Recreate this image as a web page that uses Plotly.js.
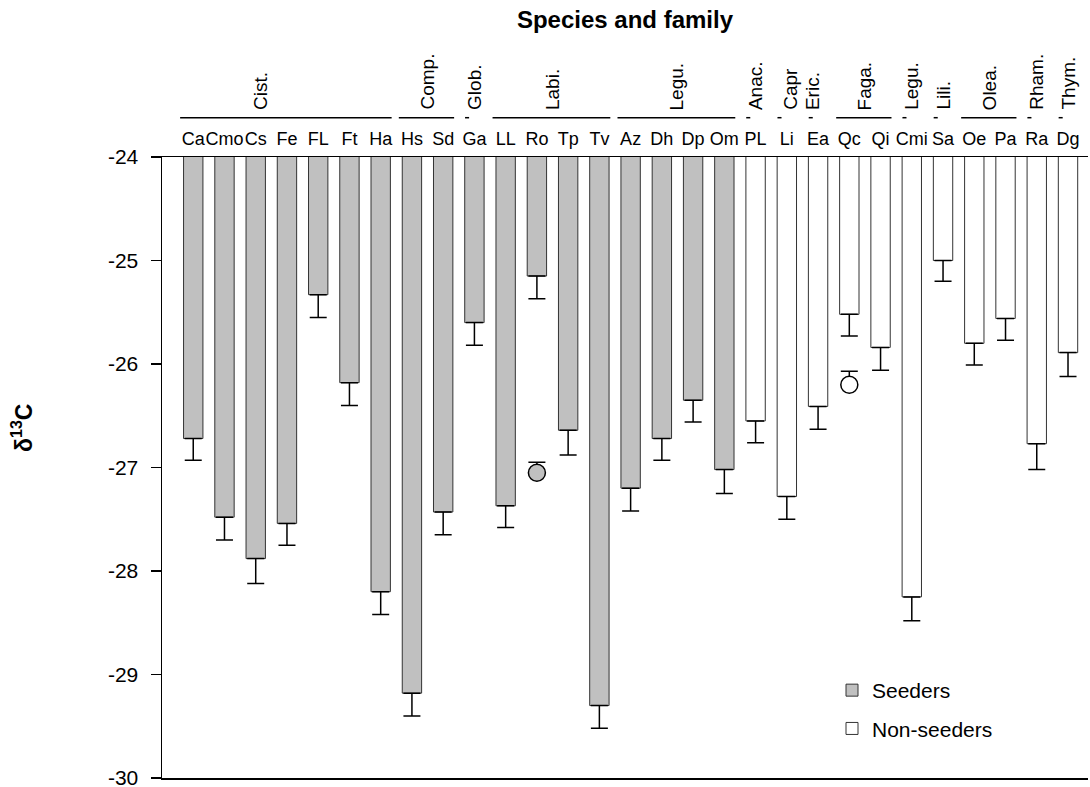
<!DOCTYPE html>
<html>
<head>
<meta charset="utf-8">
<script src="https://cdn.plot.ly/plotly-3.0.1.min.js"></script>
<style>html,body{margin:0;padding:0;background:#fff;}#chart{width:1090px;height:787px;}</style>
</head>
<body>
<div id="chart"></div>
<script>
// ---- data ----
const categories = ['Ca','Cmo','Cs','Fe','FL','Ft','Ha','Hs','Sd','Ga','LL','Ro','Tp','Tv','Az','Dh','Dp','Om',
                    'PL','Li','Ea','Qc','Qi','Cmi','Sa','Oe','Pa','Ra','Dg'];
const seederSpecies = ['Ca','Cmo','Cs','Fe','FL','Ft','Ha','Hs','Sd','Ga','LL','Ro','Tp','Tv','Az','Dh','Dp','Om'];
const seederValues  = [-26.72,-27.48,-27.88,-27.54,-25.33,-26.18,-28.20,-29.18,-27.43,-25.60,-27.37,-25.15,-26.64,-29.30,-27.20,-26.72,-26.35,-27.02];
const seederErrors  = [0.21,0.22,0.24,0.21,0.22,0.22,0.22,0.22,0.22,0.22,0.21,0.22,0.24,0.22,0.22,0.21,0.21,0.23];
const nonSeederSpecies = ['PL','Li','Ea','Qc','Qi','Cmi','Sa','Oe','Pa','Ra','Dg'];
const nonSeederValues  = [-26.55,-27.28,-26.41,-25.52,-25.84,-28.25,-25.00,-25.80,-25.56,-26.77,-25.89];
const nonSeederErrors  = [0.21,0.22,0.22,0.21,0.22,0.23,0.20,0.21,0.21,0.25,0.23];
const extraSpecies = ['Ro','Qc'];
const extraValues  = [-27.05,-26.20];
const extraErrors  = [0.10,0.13];
const familyNames = ['Cist.','Comp.','Glob.','Labi.','Legu.','Anac.','Capr','Eric.','Faga.','Legu.','Lili.','Olea.','Rham.','Thym.'];
const familyFirst = ['Ca','Hs','Ga','LL','Az','PL','Li','Ea','Qc','Cmi','Sa','Oe','Ra','Dg'];
const familyLast  = ['Ha','Sd','Ga','Tv','Om','PL','Li','Ea','Qi','Cmi','Sa','Pa','Ra','Dg'];
const yTicks = [-24,-25,-26,-27,-28,-29,-30];

// ---- style ----
const FONT = 'Liberation Sans, Arial, Helvetica, sans-serif';
const famTextShift = {'Cist.': -26, 'Capr': 4, 'Eric.': -5};
const gray = '#c0c0c0';

const barCommon = {
  type: 'bar', width: 0.62,
  hoverinfo: 'x+y'
};
const traces = [
  Object.assign({}, barCommon, {
    name: 'Seeders', x: seederSpecies, y: seederValues, legendgroup: 'a',
    marker: {color: gray, line: {color: '#333', width: 1}},
    error_y: {type: 'data', symmetric: false, array: seederValues.map(() => 0), arrayminus: seederErrors,
              color: '#000', thickness: 1.5, width: 8.5}
  }),
  Object.assign({}, barCommon, {
    name: 'Non-seeders', x: nonSeederSpecies, y: nonSeederValues, legendgroup: 'b',
    marker: {color: '#fff', line: {color: '#333', width: 1}},
    error_y: {type: 'data', symmetric: false, array: nonSeederValues.map(() => 0), arrayminus: nonSeederErrors,
              color: '#000', thickness: 1.5, width: 8.5}
  }),
  {
    type: 'scatter', mode: 'markers', x: extraSpecies, y: extraValues, showlegend: false,
    marker: {size: 17, color: [gray, '#fff'], line: {color: '#000', width: 1.5}},
    error_y: {type: 'data', symmetric: false, array: extraErrors, arrayminus: extraValues.map(() => 0),
              color: '#000', thickness: 1.5, width: 8.5}
  }
];

const idx = c => categories.indexOf(c);
const shapes = [];
const annotations = [];
const lineY = (778 - 117.7) / 621;
const textY = (778 - 112) / 621;
familyNames.forEach((name, i) => {
  const a = idx(familyFirst[i]), b = idx(familyLast[i]);
  let x0, x1;
  if (a === b) { x0 = a - 0.30; x1 = a - 0.17; }
  else { x0 = a - 0.42; x1 = b + 0.35; }
  shapes.push({type: 'line', xref: 'x', yref: 'paper', x0: x0, x1: x1, y0: lineY, y1: lineY,
               line: {color: '#000', width: 1.5}});
  annotations.push({xref: 'x', yref: 'paper', x: (a + b) / 2, y: textY, text: name, textangle: -90,
                    showarrow: false, xanchor: 'center', yanchor: 'bottom', xshift: famTextShift[name] || 0,
                    font: {family: FONT, size: 19, color: '#000'}});
});
annotations.push({xref: 'paper', yref: 'paper', x: (22 - 162) / 926, y: (778 - 428) / 621,
                  text: '<b>δ<sup>13</sup>C</b>', textangle: -90, showarrow: false,
                  xanchor: 'center', yanchor: 'middle', font: {family: FONT, size: 23, color: '#000'}});

const layout = {
  width: 1090, height: 787,
  margin: {l: 162, r: 2, t: 157, b: 9, pad: 0},
  paper_bgcolor: '#fff', plot_bgcolor: '#fff',
  font: {family: FONT, color: '#000'},
  title: {text: '<b>Species and family</b>', font: {family: FONT, size: 24, color: '#000'},
          x: 625 / 1090, xanchor: 'center', y: 1 - 20 / 787, yanchor: 'middle', yref: 'container'},
  barmode: 'overlay',
  bargap: 0,
  showlegend: true,
  legend: {x: (832 - 162) / 926, y: (778 - 670) / 621, xanchor: 'left', yanchor: 'top',
           font: {family: FONT, size: 21, color: '#000'}, bgcolor: 'rgba(0,0,0,0)',
           tracegroupgap: 8, traceorder: 'grouped'},
  xaxis: {type: 'category', categoryorder: 'array', categoryarray: categories,
          side: 'top', range: [-1.0, 28.64], showline: true, mirror: true, linecolor: '#000', linewidth: 1.5,
          ticks: '', showgrid: false, zeroline: false, ticklabelstandoff: 3, tickangle: 0,
          tickfont: {family: FONT, size: 18, color: '#000'}, fixedrange: true},
  yaxis: {range: [-30, -24], tickvals: yTicks, ticktext: yTicks.map(String), showline: true,
          linecolor: '#000', linewidth: 1.5, ticks: 'outside', ticklen: 10, tickwidth: 1.5, tickcolor: '#000',
          showgrid: false, zeroline: false, ticklabelstandoff: 8, ticklabeloverflow: 'allow',
          tickfont: {family: FONT, size: 21, color: '#000'}, fixedrange: true},
  shapes: shapes,
  annotations: annotations
};

Plotly.newPlot('chart', traces, layout, {displayModeBar: false, staticPlot: true});
</script>
</body>
</html>
